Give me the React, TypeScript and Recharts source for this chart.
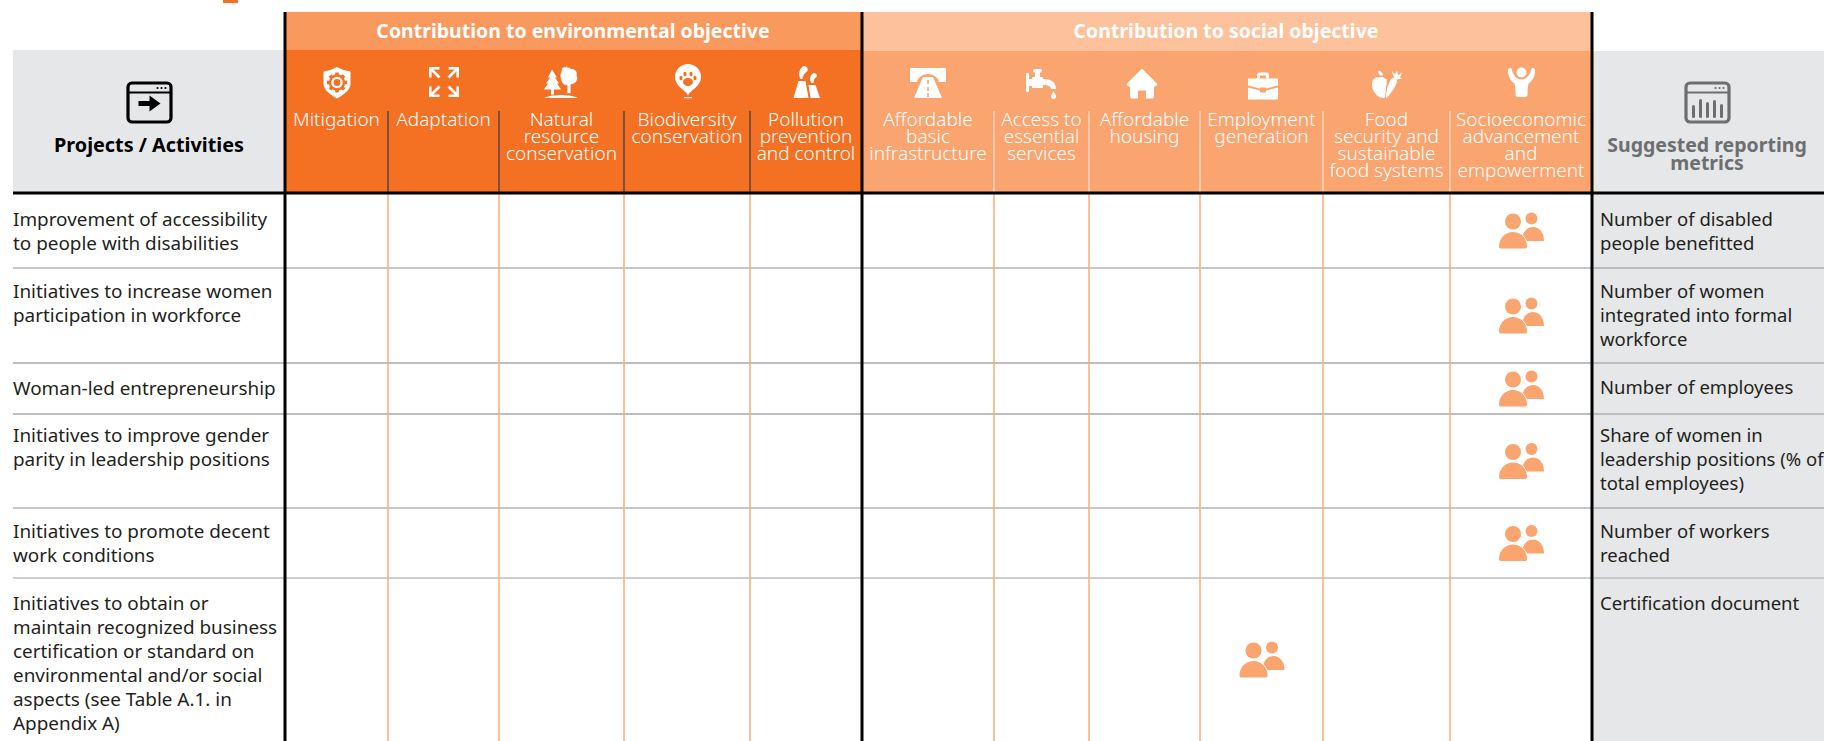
import React from "react";
import { ComposedChart, Scatter, XAxis, YAxis, ReferenceArea, ReferenceLine } from "recharts";

// ---- content ----
const environmentalTitle = "Contribution to environmental objective";
const socialTitle = "Contribution to social objective";
const leftHeading = ["Projects / Activities"];
const rightHeading = ["Suggested reporting", "metrics"];

const columnLabels: string[][] = [
  ["Mitigation"],
  ["Adaptation"],
  ["Natural", "resource", "conservation"],
  ["Biodiversity", "conservation"],
  ["Pollution", "prevention", "and control"],
  ["Affordable", "basic", "infrastructure"],
  ["Access to", "essential", "services"],
  ["Affordable", "housing"],
  ["Employment", "generation"],
  ["Food", "security and", "sustainable", "food systems"],
  ["Socioeconomic", "advancement", "and", "empowerment"],
];
const columnIcons = ["shield", "arrows", "trees", "pin", "plant", "road", "tap", "house", "case", "food", "person"];

const activities: string[][] = [
  ["Improvement of accessibility", "to people with disabilities"],
  ["Initiatives to increase women", "participation in workforce"],
  ["Woman-led entrepreneurship"],
  ["Initiatives to improve gender", "parity in leadership positions"],
  ["Initiatives to promote decent", "work conditions"],
  [
    "Initiatives to obtain or",
    "maintain recognized business",
    "certification or standard on",
    "environmental and/or social",
    "aspects (see Table A.1. in",
    "Appendix A)",
  ],
];
const metrics: string[][] = [
  ["Number of disabled", "people benefitted"],
  ["Number of women", "integrated into formal", "workforce"],
  ["Number of employees"],
  ["Share of women in", "leadership positions (% of", "total employees)"],
  ["Number of workers", "reached"],
  ["Certification document"],
];
// which column (index) each activity contributes to
const contributionColumn = [10, 10, 10, 10, 10, 8];

// ---- layout ----
const W = 1824;
const H = 741;
const columnEdges = [285, 388, 499, 624, 750, 862, 994, 1089, 1200, 1323, 1450, 1592];
const rowEdges = [193, 268, 363, 414, 508, 578, 741];
const rowTextInset = [25, 22, 23.5, 20, 22, 24];
const rowLineStyle = [
  { c: "#8e9093", w: 1 },
  { c: "#bcbec0", w: 2 },
  { c: "#bcbec0", w: 2 },
  { c: "#8e9093", w: 1 },
  { c: "#bcbec0", w: 1.5 },
];
const iconCenters = [
  [337, 82.5],
  [444, 82],
  [561, 82.5],
  [688, 81],
  [806.5, 82],
  [928, 83],
  [1041, 83],
  [1142, 83.5],
  [1263, 86.5],
  [1387, 84.5],
  [1521.5, 82.5],
];
const BODY_FONT = "'Noto Sans', sans-serif";
const HEAD_FONT = "'Noto Sans', sans-serif";

const WHITE = "#ffffff";
const ORANGE = "#f47023";
const SOFT = "#faa46f";

function IconGlyph({ name, bg }: { name: string; bg: string }) {
  switch (name) {
    case "shield":
      return (
        <g>
          <path d="M0,-15.5 Q6,-12 13.5,-11 V1 C13.5,8 6,12.5 0,16 C-6,12.5 -13.5,8 -13.5,1 V-11 Q-6,-12 0,-15.5Z" fill={WHITE} />
          <circle r={8.2} fill={bg} />
          {[0, 45, 90, 135].map((a) => (
            <rect key={a} x={-1.8} y={-10} width={3.6} height={20} fill={bg} transform={`rotate(${a})`} />
          ))}
          <circle r={5.8} fill={WHITE} />
          <circle r={3.4} fill={bg} />
        </g>
      );
    case "arrows":
      return (
        <g fill="none" stroke={WHITE} strokeWidth={2.6}>
          {[0, 90, 180, 270].map((a) => (
            <g key={a} transform={`rotate(${a})`}>
              <path d="M-13.7,-4.5 V-13.7 H-4.5" />
              <path d="M-12.5,-12.5 L-4.5,-4.5" />
            </g>
          ))}
        </g>
      );
    case "trees":
      return (
        <g fill={WHITE}>
          <path d="M-9,-13 L-4,-5 L-6,-5 L-2,1 L-4,1 L0,7 L-7,7 V12 H-10 V7 L-17,7 L-13,1 L-15,1 L-11,-5 L-13,-5 Z" />
          <path d="M1,-15 C4,-16 8,-16 10,-14 C14,-14 17,-11 16,-7 C18,-3 15,1 11,2 L10,2 V11 H6 V3 C3,3 1,1 0,-2 L-1,-7 Z" stroke={bg} strokeWidth={0.8} />
          <path d="M-17,15.5 C-10,11.5 10,11.5 17,15.5 Z" />
        </g>
      );
    case "pin":
      return (
        <g>
          <path d="M0,14.5 C-2,9 -13,6 -13,-4 A13,13 0 1 1 13,-4 C13,6 2,9 0,14.5Z" fill={WHITE} />
          <rect x={-4} y={16} width={8} height={1.2} fill={WHITE} />
          <g fill={bg}>
            <ellipse cx={0} cy={1} rx={5} ry={4} />
            <ellipse cx={-7} cy={-3} rx={1.6} ry={2.2} />
            <ellipse cx={-3} cy={-7} rx={1.6} ry={2.3} />
            <ellipse cx={3} cy={-7} rx={1.6} ry={2.3} />
            <ellipse cx={7} cy={-3} rx={1.6} ry={2.2} />
          </g>
        </g>
      );
    case "plant":
      return (
        <g fill={WHITE}>
          <path d="M-13,16 L-8,-1 H-1 L2,16 Z" />
          <path d="M4,16 L2,3 H9 L13.5,16 Z" />
          <path d="M-6,-3 C-9,-8 -7,-13 -3,-16 C0,-16 2,-14 1,-11 C-2,-9 -4,-6 -4,-3 Z" />
          <path d="M5,1 C2,-3 4,-7 7,-9 C10,-9 11,-7 10,-5 C8,-4 7,-2 7,1 Z" />
        </g>
      );
    case "road":
      return (
        <g fill={WHITE}>
          <path d="M-18,-15 H18 V-1 H11 C10,-6 5,-9 0,-9 C-5,-9 -10,-6 -11,-1 H-18Z" />
          <path fillRule="evenodd" d="M-5,-6 H5 L14,15 H-14 Z M-0.8,-3 V1 H0.8 V-3 Z M-0.8,4 V8 H0.8 V4 Z M-0.8,10 V14 H0.8 V10 Z" />
        </g>
      );
    case "tap":
      return (
        <g fill={WHITE}>
          <rect x={-15} y={-10} width={3} height={19} rx={1} />
          <rect x={-12} y={-4} width={3} height={7} />
          <rect x={-9} y={-6} width={11} height={11} rx={1} />
          <rect x={-6} y={-11} width={5} height={5} />
          <rect x={-8} y={-14} width={9} height={3.5} rx={1.5} />
          <path d="M2,-4 C10,-4 15,-1 15,6 H10 C10,3 7,2 2,2 Z" />
          <path d="M12.5,8 C14,11 15,12 15,13.5 A2.5,2.5 0 0 1 10,13.5 C10,12 11,11 12.5,8Z" />
        </g>
      );
    case "house":
      return (
        <g fill={WHITE}>
          <path d="M0,-15 L15,0 C16,2 14,3 12,3 V13 C12,14.5 11,15 10,15 H4 V7 H-4 V15 H-10 C-11,15 -12,14.5 -12,13 V3 C-14,3 -16,2 -15,0 Z" />
        </g>
      );
    case "case":
      return (
        <g fill={WHITE}>
          <path fillRule="evenodd" d="M-6,-8 V-11 C-6,-13 -5,-14 -3,-14 H3 C5,-14 6,-13 6,-11 V-8 H3 V-11 H-3 V-8 Z" />
          <path d="M-15,-8 H15 V-1 L3,2 V1 H-3 V2 L-15,-1Z" />
          <path d="M-15,1 L-3,4 V6 H3 V4 L15,1 V13 H-15 Z" />
        </g>
      );
    case "food":
      return (
        <g fill={WHITE}>
          <path d="M-8,-7 C-5,-8 -3,-7 -2,-6 L0,-5 L-2,13 C-4,14 -6,13 -7,13 C-11,11 -15,6 -15,0 C-15,-5 -12,-8 -8,-7Z" />
          <path d="M-7,-9 C-9,-11 -9,-13 -8,-14 C-5,-13 -4,-11 -4,-9 Z" />
          <path d="M-1,14 C-1,7 1,-1 4,-5 C6,-8 10,-7 10,-3 C9,2 4,9 -1,14Z" />
          <path d="M7,-7 C6,-10 5,-12 5,-13.5 L8,-10 L10,-14 L11,-9 L15,-12 L13,-7 L15,-6 L10,-5Z" />
        </g>
      );
    case "person":
    default:
      return (
        <g fill={WHITE}>
          <circle cx={0} cy={-10} r={5} />
          <path d="M-13.5,-13 C-14,-7 -11,-1 -7,1 C-6,6 -6,10 -6,12 C-6,14.5 -4,14.5 -2,14.5 H2 C4,14.5 6,14.5 6,12 C6,10 6,6 7,1 C11,-1 14,-7 13.5,-13 C13,-15 10,-15 9.5,-13 C9,-8 5,-3 0,-3 C-5,-3 -9,-8 -9.5,-13 C-10,-15 -13,-15 -13.5,-13Z" />
        </g>
      );
  }
}

function PeopleShape({ cx, cy }: any) {
  const big = "M-22,16 C-22,8 -16,1.5 -8,1.5 C0,1.5 6,8 6,16 C6,17.5 5,18 4,18 H-20 C-21,18 -22,17.5 -22,16Z";
  return (
    <g transform={`translate(${cx},${cy})`} fill={SOFT}>
      <circle cx={10.5} cy={-12} r={6} />
      <path d="M1,10.5 C1,3 5,-3.5 12,-3.5 C19,-3.5 23,3 23,10.5 Z" />
      <path d={big} fill="#ffffff" stroke="#ffffff" strokeWidth={1.6} />
      <circle cx={-8} cy={-9} r={8} />
      <path d={big} />
    </g>
  );
}

function LinesShape({ cx, cy, payload, font, size, weight, fill, lineHeight, anchor }: any) {
  return (
    <g>
      {payload.lines.map((t: string, i: number) => (
        <text
          key={i}
          x={cx}
          y={cy + i * lineHeight}
          textAnchor={anchor}
          dominantBaseline="central"
          fontFamily={font}
          fontSize={size}
          fontWeight={weight}
          fill={fill}
        >
          {t}
        </text>
      ))}
    </g>
  );
}

function IconShape({ cx, cy, payload }: any) {
  return (
    <g transform={`translate(${cx},${cy})`}>
      <IconGlyph name={payload.icon} bg={payload.bg} />
    </g>
  );
}

function WindowShape({ cx, cy, payload }: any) {
  const c = payload.color;
  return (
    <g transform={`translate(${cx},${cy})`}>
      <rect x={-21.5} y={-19.5} width={43} height={39} rx={4} fill="none" stroke={c} strokeWidth={3.2} />
      <line x1={-21} x2={21} y1={-10} y2={-10} stroke={c} strokeWidth={2} />
      {[8, 12, 16].map((d) => (
        <circle key={d} cx={d} cy={-14.5} r={1.1} fill={c} />
      ))}
      {payload.kind === "arrow" ? (
        <path d="M-11,-1.5 H0 V-7 L11,1 L0,9 V3.5 H-11 Z" fill={c} />
      ) : (
        [-14, -7, 0, 7, 14].map((d, i) => (
          <line
            key={d}
            x1={d}
            x2={d}
            y1={[4, -2, 1, -1, 3][i]}
            y2={14}
            stroke={c}
            strokeWidth={3}
            strokeLinecap="round"
          />
        ))
      )}
    </g>
  );
}

const center = (edges: number[], i: number) => (edges[i] + edges[i + 1]) / 2;

const columnLabelData = columnLabels.map((lines, i) => ({ x: center(columnEdges, i), y: 118.5, lines }));
const columnIconData = columnIcons.map((icon, i) => ({
  x: iconCenters[i][0],
  y: iconCenters[i][1],
  icon,
  bg: i < 5 ? ORANGE : SOFT,
}));
const activityData = activities.map((lines, i) => ({ x: 13, y: rowEdges[i] + rowTextInset[i] + 1, lines }));
const metricData = metrics.map((lines, i) => ({ x: 1600, y: rowEdges[i] + rowTextInset[i], lines }));
const peopleData = contributionColumn.map((col, i) => ({ x: center(columnEdges, col), y: center(rowEdges, i) }));
const titleData = [
  { x: 573, y: 30, lines: [environmentalTitle] },
  { x: 1226, y: 30, lines: [socialTitle] },
];
const leftHeadData = [{ x: 149, y: 144, lines: leftHeading }];
const rightHeadData = [{ x: 1707, y: 144.5, lines: rightHeading }];
const windowData = [
  { x: 149.5, y: 102.5, kind: "arrow", color: "#000000" },
  { x: 1707.5, y: 102.5, kind: "bars", color: "#6d6e71" },
];

export default function App() {
  return (
    <div style={{ position: "absolute", left: 0, top: 0, width: W, height: H, background: "#fff" }}>
      <ComposedChart width={W} height={H} margin={{ top: 0, right: 0, bottom: 0, left: 0 }} data={[]}>
        <XAxis type="number" dataKey="x" domain={[0, W]} hide allowDataOverflow />
        <YAxis type="number" dataKey="y" domain={[0, H]} reversed hide allowDataOverflow />

        <ReferenceArea x1={223} x2={238} y1={0} y2={3} fill={ORANGE} fillOpacity={1} strokeWidth={0} />
        <ReferenceArea x1={13} x2={285} y1={50} y2={193} fill="#e6e7e8" fillOpacity={1} strokeWidth={0} />
        <ReferenceArea x1={1592} x2={W} y1={51} y2={H} fill="#e6e7e8" fillOpacity={1} strokeWidth={0} />
        <ReferenceArea x1={285} x2={862} y1={12} y2={50} fill="#f9995d" fillOpacity={1} strokeWidth={0} />
        <ReferenceArea x1={862} x2={1592} y1={12} y2={51} fill="#fdc29b" fillOpacity={1} strokeWidth={0} />
        <ReferenceArea x1={285} x2={862} y1={50} y2={193} fill={ORANGE} fillOpacity={1} strokeWidth={0} />
        <ReferenceArea x1={862} x2={1592} y1={51} y2={193} fill={SOFT} fillOpacity={1} strokeWidth={0} />

        {rowLineStyle.map((s, i) => (
          <ReferenceLine
            key={`r${i}`}
            segment={[
              { x: 13, y: rowEdges[i + 1] },
              { x: W, y: rowEdges[i + 1] },
            ]}
            stroke={s.c}
            strokeWidth={s.w}
          />
        ))}
        {columnEdges.slice(1, -1).map((x, i) =>
          x === 862 ? null : (
            <ReferenceLine
              key={`bc${i}`}
              segment={[
                { x, y: 193 },
                { x, y: H },
              ]}
              stroke="#fbab7a"
              strokeWidth={1.5}
            />
          )
        )}
        {columnEdges.slice(1, -1).map((x, i) =>
          x === 862 ? null : (
            <ReferenceLine
              key={`hc${i}`}
              segment={[
                { x, y: 111 },
                { x, y: 192 },
              ]}
              stroke={x < 862 ? "#2e3a4a" : "#fde3d2"}
              strokeWidth={1.2}
            />
          )
        )}
        {[285, 862, 1592].map((x) => (
          <ReferenceLine
            key={`v${x}`}
            segment={[
              { x, y: 12 },
              { x, y: H },
            ]}
            stroke="#000000"
            strokeWidth={3}
          />
        ))}
        <ReferenceLine
          segment={[
            { x: 13, y: 193 },
            { x: W, y: 193 },
          ]}
          stroke="#000000"
          strokeWidth={3}
        />

        <Scatter
          data={titleData}
          isAnimationActive={false}
          shape={(p: any) => <LinesShape {...p} font={BODY_FONT} size={19.5} weight={700} fill="#fff" lineHeight={20} anchor="middle" />}
        />
        <Scatter
          data={leftHeadData}
          isAnimationActive={false}
          shape={(p: any) => <LinesShape {...p} font={BODY_FONT} size={19.8} weight={700} fill="#000" lineHeight={18} anchor="middle" />}
        />
        <Scatter
          data={rightHeadData}
          isAnimationActive={false}
          shape={(p: any) => <LinesShape {...p} font={BODY_FONT} size={19.5} weight={700} fill="#6d6e71" lineHeight={18} anchor="middle" />}
        />
        <Scatter data={windowData} isAnimationActive={false} shape={(p: any) => <WindowShape {...p} />} />
        <Scatter data={columnIconData} isAnimationActive={false} shape={(p: any) => <IconShape {...p} />} />
        <Scatter
          data={columnLabelData}
          isAnimationActive={false}
          shape={(p: any) => <LinesShape {...p} font={HEAD_FONT} size={19} weight={300} fill="#fff" lineHeight={17} anchor="middle" />}
        />
        <Scatter
          data={activityData}
          isAnimationActive={false}
          shape={(p: any) => <LinesShape {...p} font={BODY_FONT} size={18.9} weight={400} fill="#231f20" lineHeight={24} anchor="start" />}
        />
        <Scatter
          data={metricData}
          isAnimationActive={false}
          shape={(p: any) => <LinesShape {...p} font={BODY_FONT} size={18.5} weight={400} fill="#231f20" lineHeight={24} anchor="start" />}
        />
        <Scatter data={peopleData} isAnimationActive={false} shape={(p: any) => <PeopleShape {...p} />} />
      </ComposedChart>
    </div>
  );
}
